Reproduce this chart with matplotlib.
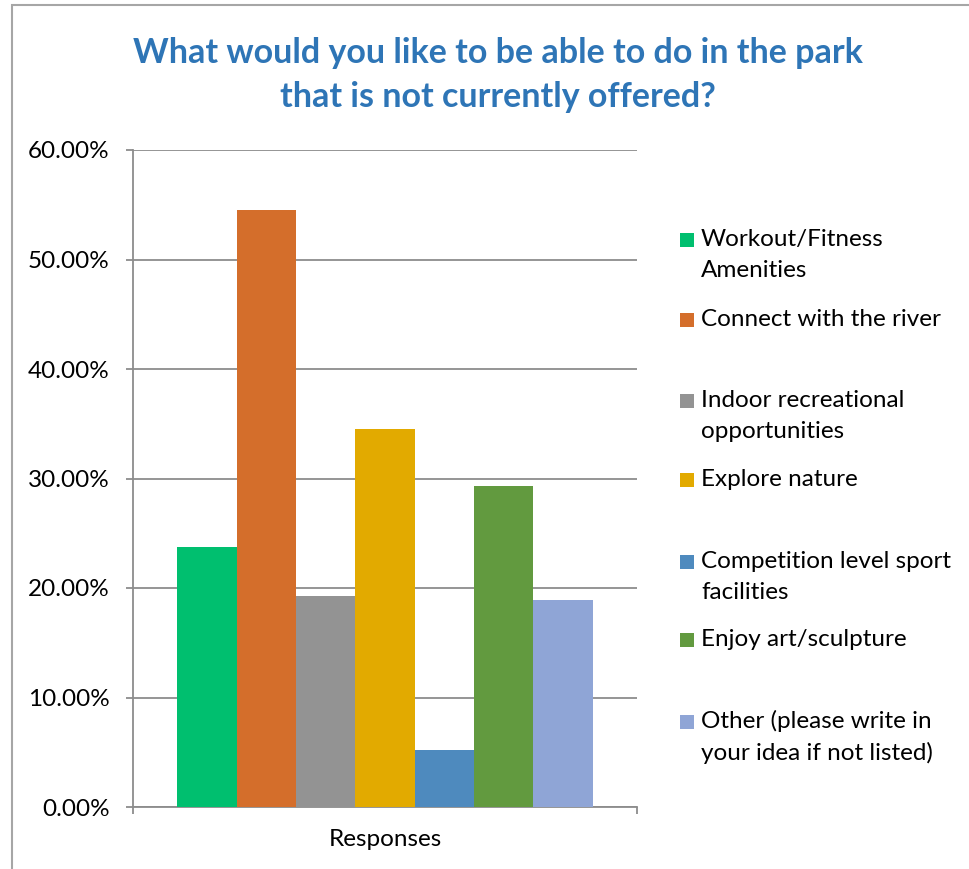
import matplotlib
matplotlib.use("Agg")
import matplotlib.pyplot as plt
from matplotlib.patches import Rectangle
from matplotlib.ticker import FuncFormatter

categories = ["Workout/Fitness\nAmenities", "Connect with the river",
              "Indoor recreational\nopportunities", "Explore nature",
              "Competition level sport\nfacilities", "Enjoy art/sculpture",
              "Other (please write in\nyour idea if not listed)"]
values = [23.7, 54.5, 19.3, 34.5, 5.2, 29.3, 18.9]
colors = ["#00BF6F", "#D46E2B", "#939393", "#E2AA00", "#4E8ABE", "#629A3F", "#8FA5D6"]
group_label = ["Responses"]
yticks = [0, 10, 20, 30, 40, 50, 60]

plt.rcParams['font.family'] = ['Lato', 'DejaVu Sans']

W, H = 970, 869
fig = plt.figure(figsize=(W/100, H/100), dpi=100)

# outer frame
fig.patches.append(Rectangle((12/W, -0.1), 2, 1 - 4.5/H + 0.1, transform=fig.transFigure,
                             fill=False, edgecolor="#A6A6A6", linewidth=1.5))

ax = fig.add_axes([133/W, 1 - 807/H, (637-133)/W, (807-150)/H])
n = len(values)
bw = 59.3/504
start = -n*bw/2
for i, (v, c) in enumerate(zip(values, colors)):
    ax.bar(start + (i+0.5)*bw, v, width=bw, color=c, edgecolor='none', zorder=3)

ax.set_xlim(-0.5, 0.5)
ax.set_ylim(0, 60)
ax.set_yticks(yticks)
ax.yaxis.set_major_formatter(FuncFormatter(lambda v, p: f"{v:.2f}%"))
ax.grid(axis='y', color='#8C8C8C', linewidth=1.3, zorder=0)
ax.tick_params(axis='y', length=5, width=1.3, color='#8C8C8C', labelsize=17.5, pad=12, labelcolor='#000000')
ax.set_xticks([0])
ax.set_xticklabels(group_label)
ax.set_xticks([-0.5, 0.5], minor=True)
ax.tick_params(axis='x', which='major', length=0, labelsize=17.5, pad=16)
ax.tick_params(axis='x', which='minor', length=5, width=1.3, color='#8C8C8C')
for s in ['top', 'right']:
    ax.spines[s].set_visible(False)
for s in ['left', 'bottom']:
    ax.spines[s].set_color('#8C8C8C')
    ax.spines[s].set_linewidth(1.3)

fig.text(498/W, 1 - 53/H, "What would you like to be able to do in the park",
         ha='center', va='center', fontsize=24.5, fontweight='bold', color='#2E75B6')
fig.text(498/W, 1 - 97/H, "that is not currently offered?",
         ha='center', va='center', fontsize=24.5, fontweight='bold', color='#2E75B6')

# legend
centers = [255, 320, 416, 480, 577, 640, 737]
for lab, c, yc in zip(categories, colors, centers):
    nl = lab.count("\n") + 1
    ytop = yc - (nl - 1) * 15.5
    fig.patches.append(Rectangle((680/W, 1 - (ytop + 7)/H), 14/W, 14/H,
                                 transform=fig.transFigure, facecolor=c, edgecolor='none'))
    fig.text(701/W, 1 - yc/H, lab, ha='left', va='center', fontsize=17.5,
             linespacing=1.55, color='#000000')

fig.savefig("out.png", dpi=100)
